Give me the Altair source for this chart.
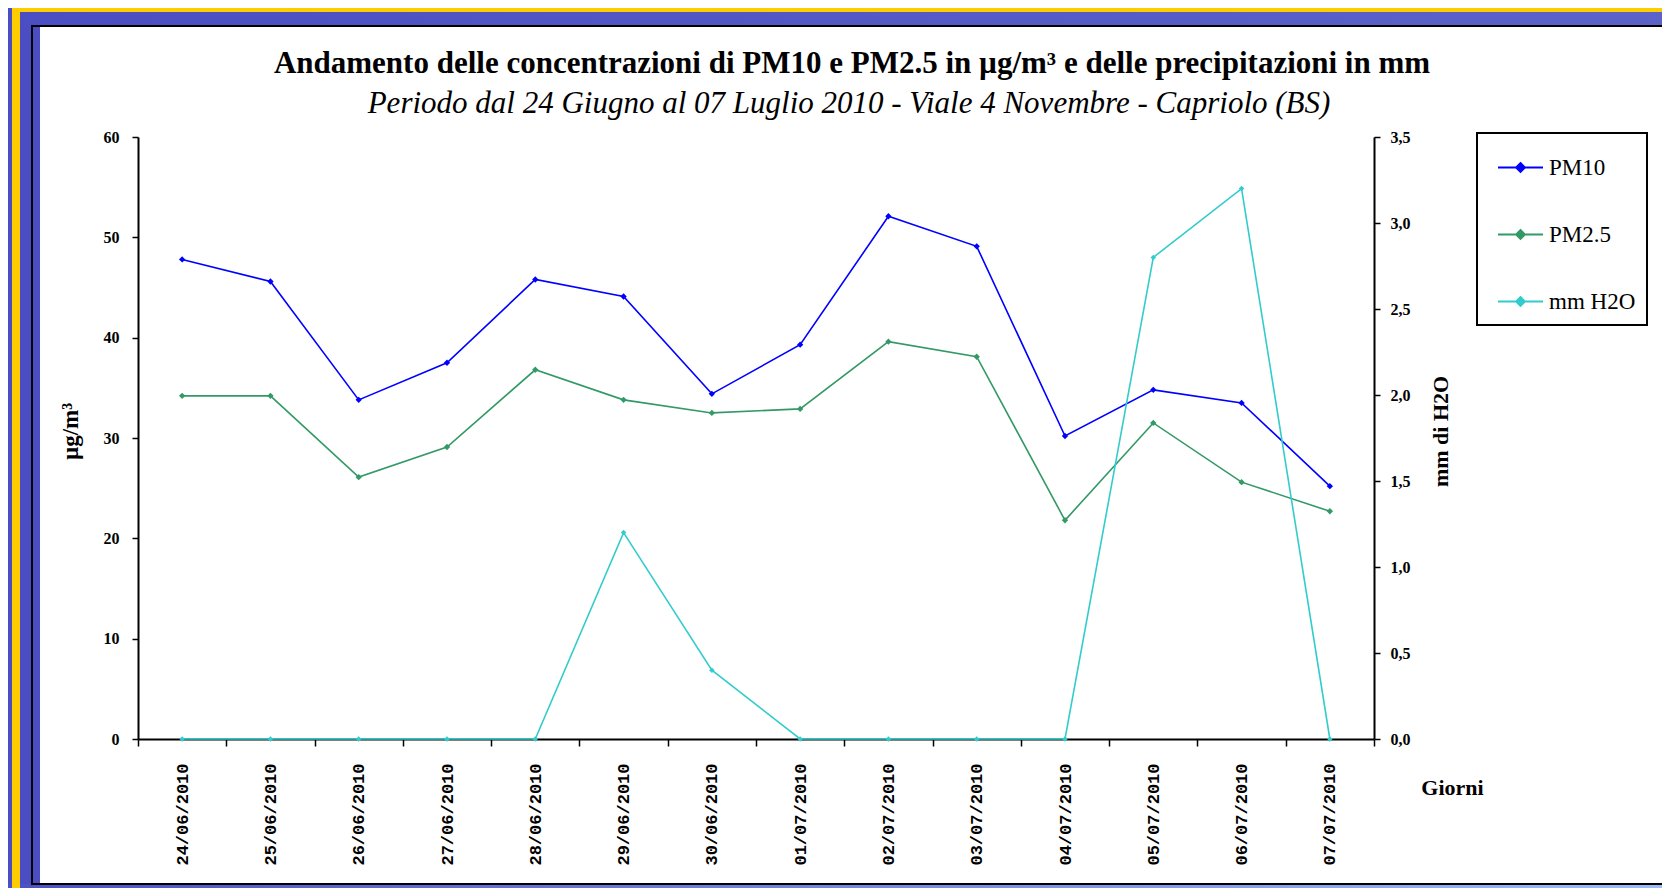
import altair as alt
import pandas as pd

# ---------------- data ----------------
dates = ["24/06/2010", "25/06/2010", "26/06/2010", "27/06/2010", "28/06/2010",
         "29/06/2010", "30/06/2010", "01/07/2010", "02/07/2010", "03/07/2010",
         "04/07/2010", "05/07/2010", "06/07/2010", "07/07/2010"]
pm10 = [47.8, 45.6, 33.8, 37.5, 45.8, 44.1, 34.4, 39.3, 52.1, 49.1, 30.2, 34.8, 33.5, 25.2]
pm25 = [34.2, 34.2, 26.1, 29.1, 36.8, 33.8, 32.5, 32.9, 39.6, 38.1, 21.8, 31.5, 25.6, 22.7]
h2o = [0, 0, 0, 0, 0, 1.2, 0.4, 0, 0, 0, 0, 2.8, 3.2, 0]
series_names = ["PM10", "PM2.5", "mm H2O"]
series_colors = ["#0000ff", "#339966", "#33cccc"]
left_ticks = [0, 10, 20, 30, 40, 50, 60]
right_ticks = [0, 0.5, 1.0, 1.5, 2.0, 2.5, 3.0, 3.5]
title_text = ["Andamento delle concentrazioni di PM10 e PM2.5 in µg/m³ e delle precipitazioni in mm"]
subtitle_text = ["Periodo dal 24 Giugno al 07 Luglio 2010 - Viale 4 Novembre - Capriolo (BS)"]

df_pm = pd.DataFrame({
    "date": dates * 2,
    "series": [series_names[0]] * len(dates) + [series_names[1]] * len(dates),
    "value": pm10 + pm25,
})
df_h2o = pd.DataFrame({"date": dates, "series": [series_names[2]] * len(dates), "value": h2o})

# ---------------- layout ----------------
W, H = 1236, 602
PADL, PADT = 130, 129
TOT_W, TOT_H = 1654, 880
PADR = TOT_W - PADL - W
PADB = TOT_H - PADT - H
OX, OY = 8 + PADL, 8 + PADT  # page position of the plot origin


def vx(px):
    return px - OX


def vy(py):
    return py - OY


one = pd.DataFrame({"k": [0]})


def rect(x0, x1, y0, y1, **kw):
    return alt.Chart(one).mark_rect(**kw).encode(
        x=alt.value(vx(x0)), x2=alt.value(vx(x1)),
        y=alt.value(vy(y0)), y2=alt.value(vy(y1)))


def hgrad(c0, c1):
    return alt.LinearGradient(
        gradient="linear",
        stops=[alt.GradientStop(color=c0, offset=0), alt.GradientStop(color=c1, offset=1)],
        x1=0, x2=1, y1=0, y2=0)


frame = [
    rect(0, 40, 0, 900, fill="#4b4dc2"),                       # left band
    rect(0, 1680, 0, 26, fill=hgrad("#4b4dc2", "#5b63c9")),     # top band
    rect(0, 1680, 884, 900, fill=hgrad("#4c50c4", "#9cbcfa")),  # bottom band
    rect(12, 20, 4, 900, fill="#ffcc00"),                       # yellow vertical
    rect(12, 1680, 4, 12, fill="#ffcc00"),                      # yellow horizontal
    rect(32, 1669, 26, 884, fillOpacity=0, stroke="black", strokeWidth=2),  # panel border
]

serif = "Liberation Serif"

x_enc = alt.X(
    "date:N", sort=dates, bandPosition=0.5,
    scale=alt.Scale(type="band", domain=dates, paddingInner=0, paddingOuter=0),
    axis=alt.Axis(
        title="Giorni", titleX=vx(1452), titleY=787 - (OY + H), titleAngle=0,
        titleAlign="center", titleBaseline="middle", titleFont=serif, titleFontSize=22,
        titleFontWeight="bold", titleColor="black",
        labelAngle=270, labelFont="Liberation Mono", labelFontSize=17, labelFontWeight="bold",
        labelColor="black", labelPadding=17, tickBand="extent", tickSize=7, tickWidth=1.5,
        tickColor="black", domainColor="black", domainWidth=2, grid=False),
)

legend = alt.Legend(
    title=None, orient="none", legendX=vx(1477), legendY=vy(133),
    symbolType="M-1,0L1,0M0,-0.2L0.2,0L0,0.2L-0.2,0Z", symbolSize=2025,
    symbolStrokeWidth=1.8, symbolOffset=9, labelFont=serif, labelFontSize=23,
    labelColor="black", labelOffset=5, rowPadding=31, padding=11,
    strokeColor="black", zindex=1)

color_enc = alt.Color("series:N", scale=alt.Scale(domain=series_names, range=series_colors),
                      legend=legend)

pm_layer = alt.Chart(df_pm).mark_line(
    strokeWidth=1.6,
    point=alt.OverlayMarkDef(shape="diamond", filled=True, size=40),
).encode(
    x=x_enc,
    y=alt.Y("value:Q", scale=alt.Scale(domain=[0, 60], nice=False, zero=True),
            axis=alt.Axis(
                title="µg/m³", values=left_ticks, titleX=vx(70), titleY=vy(431),
                titleAngle=270, titleAlign="center", titleBaseline="middle",
                titleFont=serif, titleFontSize=23, titleFontWeight="bold", titleColor="black",
                labelFont=serif, labelFontSize=16, labelFontWeight="bold", labelColor="black",
                labelPadding=13, tickSize=6, tickWidth=1.5, tickColor="black",
                domainColor="black", domainWidth=2, grid=False)),
    color=color_enc,
    detail="series:N",
)

h2o_layer = alt.Chart(df_h2o).mark_line(
    strokeWidth=1.6,
    point=alt.OverlayMarkDef(shape="diamond", filled=True, size=30),
).encode(
    x=x_enc,
    y=alt.Y("value:Q", scale=alt.Scale(domain=[0, 3.5], nice=False, zero=True),
            axis=alt.Axis(
                orient="right", title="mm di H2O", values=right_ticks,
                labelExpr="replace(format(datum.value, '.1f'), '.', ',')",
                titleX=1440 - (OX + W), titleY=vy(431), titleAngle=270,
                titleAlign="center", titleBaseline="middle",
                titleFont=serif, titleFontSize=22, titleFontWeight="bold", titleColor="black",
                labelFont=serif, labelFontSize=16, labelFontWeight="bold", labelColor="black",
                labelPadding=10, tickSize=6, tickWidth=1.5, tickColor="black",
                domainColor="black", domainWidth=2, grid=False)),
    color=color_enc,
)

title_layer = alt.Chart(pd.DataFrame({"t": title_text})).mark_text(
    font=serif, fontSize=31, fontWeight="bold", align="center", baseline="middle", color="black"
).encode(x=alt.value(vx(852)), y=alt.value(vy(64)), text="t:N")

subtitle_layer = alt.Chart(pd.DataFrame({"t": subtitle_text})).mark_text(
    font=serif, fontSize=31, fontStyle="italic", align="center", baseline="middle", color="black"
).encode(x=alt.value(vx(849)), y=alt.value(vy(104)), text="t:N")

chart = alt.layer(
    *frame, pm_layer, h2o_layer, title_layer, subtitle_layer
).resolve_scale(
    y="independent"
).properties(
    width=W, height=H,
    padding={"left": PADL, "top": PADT, "right": PADR, "bottom": PADB},
    autosize=alt.AutoSizeParams(type="none"),
    background="white",
).configure_view(strokeOpacity=0).configure_legend(strokeWidth=2)

chart.save("out.html", embed_options={"renderer": "svg", "actions": False})
